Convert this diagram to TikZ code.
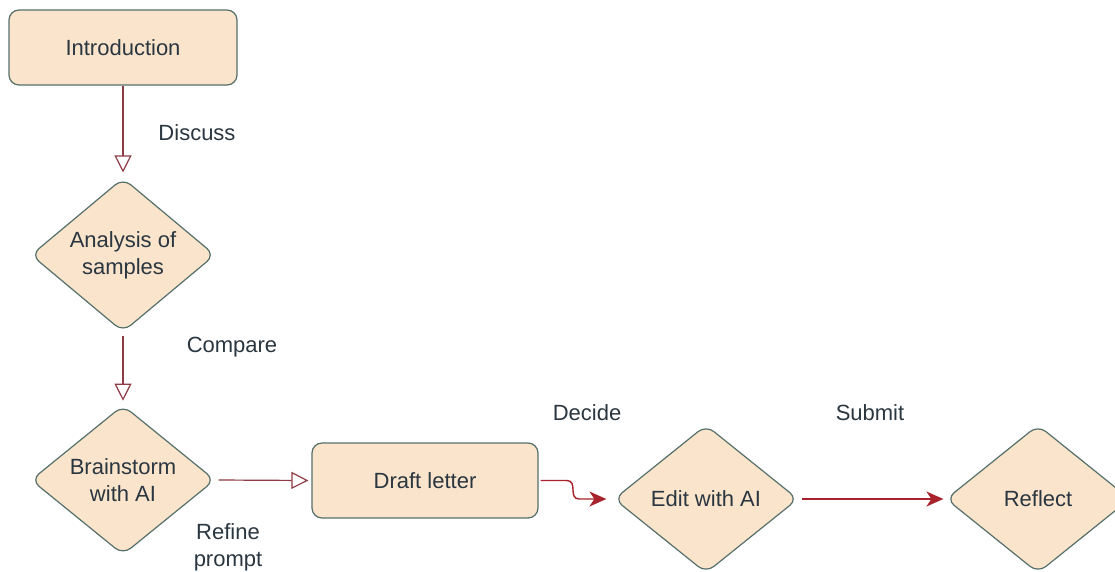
\documentclass[tikz,border=0pt]{standalone}
\usepackage{fontspec}
\setmainfont{Liberation Sans}
\usetikzlibrary{shapes.geometric,arrows.meta}
\definecolor{nodefill}{HTML}{FAE4CB}
\definecolor{nodeline}{HTML}{55706A}
\definecolor{arrA}{HTML}{8E3B45}
\definecolor{arrB}{HTML}{A8232B}
\definecolor{txt}{HTML}{2A3640}
\begin{document}
\begin{tikzpicture}[x=1pt,y=-1pt, font=\fontsize{22}{27}\selectfont,
  box/.style={draw=nodeline, fill=nodefill, rounded corners=10pt, line width=1.2pt, minimum width=228pt, minimum height=75pt, text=txt},
  dia/.style={diamond, draw=nodeline, fill=nodefill, rounded corners=10pt, line width=1.2pt, minimum width=184pt, minimum height=148pt, align=center, inner sep=0pt, text=txt},
  openarr/.style={draw=arrA, line width=1.2pt, -{Triangle[open, fill=white, length=17pt, width=17pt]}},
  fillarr/.style={draw=arrB, line width=1.4pt, -{Stealth[length=17pt, width=15pt, inset=5pt]}},
  lab/.style={align=center, text=txt}]
\useasboundingbox[fill=white] (0,0) rectangle (1115,571);
\node[box] (intro) at (123,47.5) {Introduction};
\node[dia] (analysis) at (123,255) {Analysis of\\samples};
\node[dia] (brain) at (123,480) {Brainstorm\\with AI};
\node[box, minimum width=226pt] (draft) at (425,480.5) {Draft letter};
\node[dia] (edit) at (706,499) {Edit with AI};
\node[dia] (reflect) at (1038,499) {Reflect};
\draw[openarr] (intro.south) -- ([yshift=5pt]analysis.north);
\draw[openarr] ([yshift=-3pt]analysis.south) -- ([yshift=4pt]brain.north);
\draw[openarr] ([xshift=3pt]brain.east) -- ([xshift=-3pt]draft.west);
\draw[fillarr] ([xshift=2pt]draft.east) -- ++(26,0) .. controls +(12,0) and +(-12,0) .. ([xshift=-34pt]edit.west) -- ([xshift=-7pt]edit.west);
\draw[fillarr] ([xshift=3pt]edit.east) -- ([xshift=-2pt]reflect.west);
\node[lab] (l1) at (197,133) {Discuss};
\node[lab] (l2) at (232,347) {Compare};
\node[lab] (l3) at (228,547) {Refine\\prompt};
\node[lab] (l4) at (587,413) {Decide};
\node[lab] (l5) at (870,413) {Submit};
\end{tikzpicture}
\end{document}
